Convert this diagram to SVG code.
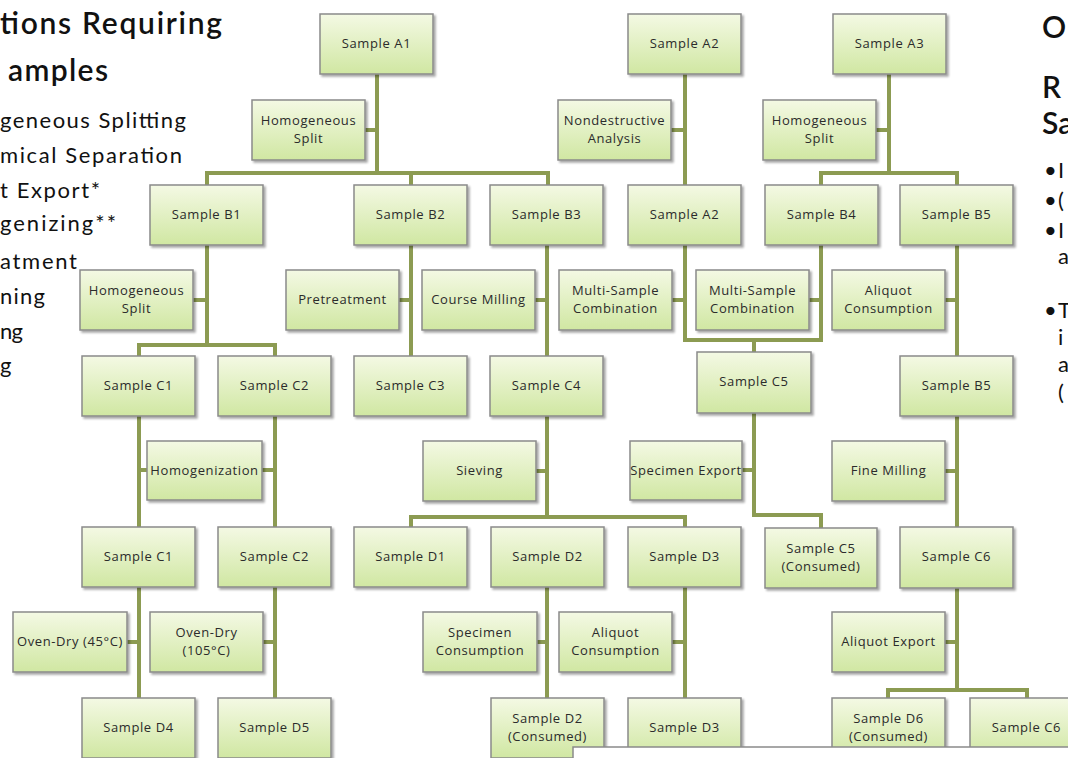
<svg xmlns="http://www.w3.org/2000/svg" width="1068" height="758" viewBox="0 0 1068 758">
<defs>
<linearGradient id="g" x1="0" y1="0" x2="0" y2="1">
<stop offset="0" stop-color="#f4f9e4"/>
<stop offset="1" stop-color="#d0e7a2"/>
</linearGradient>
<filter id="sh" x="-10%" y="-10%" width="130%" height="130%">
<feDropShadow dx="2" dy="2" stdDeviation="1.2" flood-color="#000" flood-opacity="0.35"/>
</filter>
<style>
.b{fill:url(#g);stroke:#8a8a8a;stroke-width:1.5;filter:url(#sh)}
.t{font-family:"Open Sans","DejaVu Sans",sans-serif;font-size:13px;fill:#2b2b2b;text-anchor:middle;letter-spacing:0.6px}
.c{fill:none;stroke:#8c9b52;stroke-width:4;stroke-linejoin:miter}
.h{font-family:"Lato","Open Sans",sans-serif;fill:#111}
</style>
</defs>
<rect width="1068" height="758" fill="#fff"/>

<g id="text-left" class="h">
<text x="0" y="34" font-size="30" font-weight="600" textLength="222">tions Requiring</text>
<text x="8" y="81" font-size="30" font-weight="600" textLength="100">amples</text>
<text x="0" y="128" font-size="22" textLength="186">geneous Splitting</text>
<text x="0" y="163" font-size="22" textLength="182">mical Separation</text>
<text x="0" y="198" font-size="22" textLength="100">t Export*</text>
<text x="0" y="231" font-size="22" textLength="116">genizing**</text>
<text x="0" y="269" font-size="22" textLength="77">atment</text>
<text x="0" y="304" font-size="22" textLength="45">ning</text>
<text x="0" y="339" font-size="22" textLength="23">ng</text>
<text x="0" y="373" font-size="22">g</text>
</g>

<g id="text-right" class="h">
<text x="1042" y="38" font-size="30" font-weight="600">O</text>
<text x="1042" y="98" font-size="30" font-weight="600">R</text>
<text x="1042" y="134" font-size="30" font-weight="600">Sa</text>
<text x="1044" y="178" font-size="22">•</text><text x="1058" y="178" font-size="22">I</text>
<text x="1044" y="208" font-size="22">•</text><text x="1058" y="208" font-size="22">(</text>
<text x="1044" y="238" font-size="22">•</text><text x="1058" y="238" font-size="22">I</text>
<text x="1058" y="264" font-size="22">a</text>
<text x="1044" y="318" font-size="22">•</text><text x="1058" y="318" font-size="22">T</text>
<text x="1058" y="345" font-size="22">i</text>
<text x="1058" y="372" font-size="22">a</text>
<text x="1058" y="400" font-size="22">(</text>
</g>

<g id="connectors">
<path class="c" d="M377 74V173M207 185V173H548V185M411 173V185M365 130H377"/>
<path class="c" d="M685 74V185M671 130H685"/>
<path class="c" d="M889 74V173M821 185V173H957V185M876 130H889"/>
<path class="c" d="M207 245V345M139 356V345H275V356M193 300H207"/>
<path class="c" d="M411 245V356M399 300H411"/>
<path class="c" d="M547 245V356M535 300H547"/>
<path class="c" d="M685 245V340H821V245M754 340V352M672 300H685M809 300H821"/>
<path class="c" d="M957 245V356M945 300H957"/>
<path class="c" d="M139 416V527M275 416V527M139 470H147M262 470H275"/>
<path class="c" d="M547 416V517M411 527V517H685V527M536 471H547"/>
<path class="c" d="M754 412V515H821V528M742 470H754"/>
<path class="c" d="M957 416V527M945 471H957"/>
<path class="c" d="M139 587V698M127 642H139M275 587V698M263 642H275"/>
<path class="c" d="M547 587V698M537 642H547M685 587V698M672 642H685"/>
<path class="c" d="M957 588V690M888 698V690H1027V698M945 642H957"/>
</g>

<g id="A1"><rect class="b" x="320" y="14" width="113" height="60"/><text class="t" x="376.5" y="48">Sample A1</text></g>
<g id="A2"><rect class="b" x="628" y="14" width="113" height="60"/><text class="t" x="684.5" y="48">Sample A2</text></g>
<g id="A3"><rect class="b" x="833" y="14" width="113" height="60"/><text class="t" x="889.5" y="48">Sample A3</text></g>

<g id="HS1"><rect class="b" x="252" y="100" width="113" height="60"/><text class="t" x="308.5" y="125">Homogeneous</text><text class="t" x="308.5" y="143">Split</text></g>
<g id="NDA"><rect class="b" x="558" y="100" width="113" height="60"/><text class="t" x="614.5" y="125" letter-spacing="0.2">Nondestructive</text><text class="t" x="614.5" y="143">Analysis</text></g>
<g id="HS2"><rect class="b" x="763" y="100" width="113" height="60"/><text class="t" x="819.5" y="125">Homogeneous</text><text class="t" x="819.5" y="143">Split</text></g>

<g id="B1"><rect class="b" x="150" y="185" width="113" height="60"/><text class="t" x="206.5" y="219">Sample B1</text></g>
<g id="B2"><rect class="b" x="354" y="185" width="113" height="60"/><text class="t" x="410.5" y="219">Sample B2</text></g>
<g id="B3"><rect class="b" x="490" y="185" width="113" height="60"/><text class="t" x="546.5" y="219">Sample B3</text></g>
<g id="A2b"><rect class="b" x="628" y="185" width="113" height="60"/><text class="t" x="684.5" y="219">Sample A2</text></g>
<g id="B4"><rect class="b" x="765" y="185" width="113" height="60"/><text class="t" x="821.5" y="219">Sample B4</text></g>
<g id="B5"><rect class="b" x="900" y="185" width="113" height="60"/><text class="t" x="956.5" y="219">Sample B5</text></g>

<g id="HS3"><rect class="b" x="80" y="270" width="113" height="60"/><text class="t" x="136.5" y="295">Homogeneous</text><text class="t" x="136.5" y="313">Split</text></g>
<g id="PRE"><rect class="b" x="286" y="270" width="113" height="60"/><text class="t" x="342.5" y="304">Pretreatment</text></g>
<g id="CM"><rect class="b" x="422" y="270" width="113" height="60"/><text class="t" x="478.5" y="304" letter-spacing="0.2">Course Milling</text></g>
<g id="MSC1"><rect class="b" x="559" y="270" width="113" height="60"/><text class="t" x="615.5" y="295">Multi-Sample</text><text class="t" x="615.5" y="313">Combination</text></g>
<g id="MSC2"><rect class="b" x="696" y="270" width="113" height="60"/><text class="t" x="752.5" y="295">Multi-Sample</text><text class="t" x="752.5" y="313">Combination</text></g>
<g id="AC1"><rect class="b" x="832" y="270" width="113" height="60"/><text class="t" x="888.5" y="295">Aliquot</text><text class="t" x="888.5" y="313">Consumption</text></g>

<g id="C1"><rect class="b" x="82" y="356" width="113" height="60"/><text class="t" x="138.5" y="390">Sample C1</text></g>
<g id="C2"><rect class="b" x="218" y="356" width="113" height="60"/><text class="t" x="274.5" y="390">Sample C2</text></g>
<g id="C3"><rect class="b" x="354" y="356" width="113" height="60"/><text class="t" x="410.5" y="390">Sample C3</text></g>
<g id="C4"><rect class="b" x="490" y="356" width="113" height="60"/><text class="t" x="546.5" y="390">Sample C4</text></g>
<g id="C5"><rect class="b" x="697" y="352" width="114" height="61"/><text class="t" x="754" y="386">Sample C5</text></g>
<g id="B5b"><rect class="b" x="900" y="356" width="113" height="60"/><text class="t" x="956.5" y="390">Sample B5</text></g>

<g id="HOM"><rect class="b" x="147" y="441" width="115" height="59"/><text class="t" x="204.5" y="475" letter-spacing="0.3">Homogenization</text></g>
<g id="SIE"><rect class="b" x="423" y="441" width="113" height="60"/><text class="t" x="479.5" y="475">Sieving</text></g>
<g id="SPE"><rect class="b" x="630" y="441" width="112" height="59"/><text class="t" x="686" y="475" letter-spacing="0">Specimen Export</text></g>
<g id="FM"><rect class="b" x="832" y="441" width="113" height="60"/><text class="t" x="888.5" y="475">Fine Milling</text></g>

<g id="C1b"><rect class="b" x="82" y="527" width="113" height="60"/><text class="t" x="138.5" y="561">Sample C1</text></g>
<g id="C2b"><rect class="b" x="218" y="527" width="113" height="60"/><text class="t" x="274.5" y="561">Sample C2</text></g>
<g id="D1"><rect class="b" x="354" y="527" width="113" height="60"/><text class="t" x="410.5" y="561">Sample D1</text></g>
<g id="D2"><rect class="b" x="491" y="527" width="113" height="60"/><text class="t" x="547.5" y="561">Sample D2</text></g>
<g id="D3"><rect class="b" x="628" y="527" width="113" height="60"/><text class="t" x="684.5" y="561">Sample D3</text></g>
<g id="C5c"><rect class="b" x="765" y="528" width="112" height="60"/><text class="t" x="821" y="553">Sample C5</text><text class="t" x="821" y="571">(Consumed)</text></g>
<g id="C6"><rect class="b" x="900" y="527" width="113" height="61"/><text class="t" x="956.5" y="561">Sample C6</text></g>

<g id="OD45"><rect class="b" x="13" y="612" width="114" height="60"/><text class="t" x="70" y="646" letter-spacing="-0.3">Oven-Dry (45°C)</text></g>
<g id="OD105"><rect class="b" x="150" y="612" width="113" height="60"/><text class="t" x="206.5" y="637">Oven-Dry</text><text class="t" x="206.5" y="655">(105°C)</text></g>
<g id="SC"><rect class="b" x="423" y="612" width="114" height="60"/><text class="t" x="480" y="637">Specimen</text><text class="t" x="480" y="655">Consumption</text></g>
<g id="AC2"><rect class="b" x="559" y="612" width="113" height="60"/><text class="t" x="615.5" y="637">Aliquot</text><text class="t" x="615.5" y="655">Consumption</text></g>
<g id="AE"><rect class="b" x="832" y="612" width="113" height="60"/><text class="t" x="888.5" y="646" letter-spacing="0.2">Aliquot Export</text></g>

<g id="D4"><rect class="b" x="82" y="698" width="113" height="60"/><text class="t" x="138.5" y="732">Sample D4</text></g>
<g id="D5"><rect class="b" x="218" y="698" width="113" height="60"/><text class="t" x="274.5" y="732">Sample D5</text></g>
<g id="D2c"><rect class="b" x="491" y="698" width="113" height="60"/><text class="t" x="547.5" y="723">Sample D2</text><text class="t" x="547.5" y="741">(Consumed)</text></g>
<g id="D3b"><rect class="b" x="628" y="698" width="113" height="60"/><text class="t" x="684.5" y="732">Sample D3</text></g>
<g id="D6c"><rect class="b" x="832" y="698" width="113" height="60"/><text class="t" x="888.5" y="723">Sample D6</text><text class="t" x="888.5" y="741">(Consumed)</text></g>
<g id="C6b"><rect class="b" x="970" y="698" width="113" height="60"/><text class="t" x="1026.5" y="732">Sample C6</text></g>

<rect x="573" y="747" width="520" height="30" fill="#fff" stroke="#8a8a8a" stroke-width="1.5"/>
</svg>
